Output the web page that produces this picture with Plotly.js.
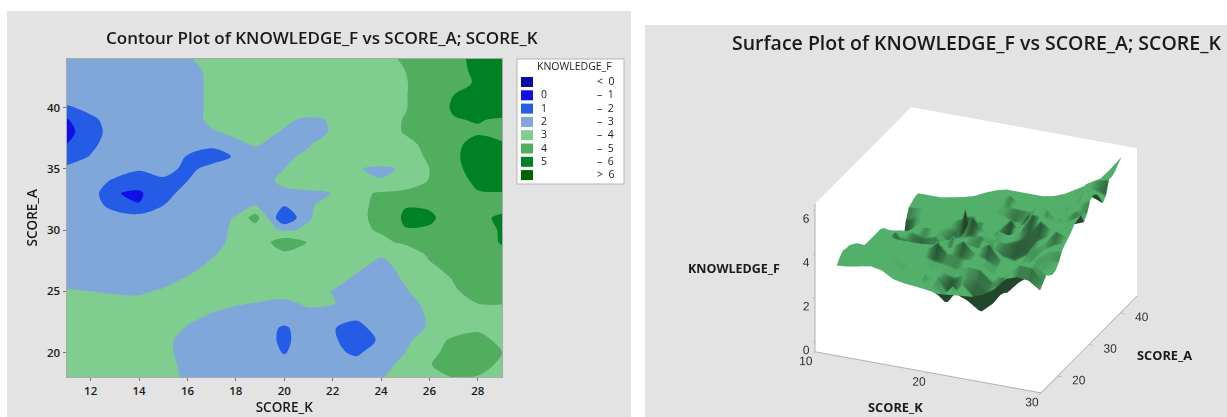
<!DOCTYPE html>
<html>
<head>
<meta charset="utf-8">
<script src="https://cdn.plot.ly/plotly-3.0.1.min.js"></script>
<style>html,body{margin:0;padding:0;background:#fff;overflow:hidden}#chart{width:1227px;height:417px}</style>
</head>
<body>
<div id="chart"></div>
<script>
const scoreK = [11,12,13,14,15,16,17,18,18.8,20,21,22,23,24,25,26,27,28,29];
const scoreA = [18,19,20,21,22,23,24,25,26,27,28,29,30,31,32,33,34,35,36,37,38,39,40,41,42,43,44];
const knowledgeF = [
[3.05,3.1,3.2,3.3,3.2,2.9,2.8,2.75,2.7,2.6,2.65,2.7,2.75,2.95,3.3,3.85,4.02,3.95,3.6],
[3.3,3.35,3.4,3.4,3.2,2.85,2.75,2.7,2.6,2.3,2.9,2.45,2.35,2.75,3.2,3.95,4.45,4.4,3.8],
[3.45,3.45,3.45,3.4,3.15,2.8,2.7,2.65,2.5,1.95,2.4,2.2,1.85,2.5,3.0,3.7,4.4,4.5,4.0],
[3.4,3.4,3.4,3.35,3.15,2.8,2.7,2.9,2.55,1.8,2.5,2.1,1.65,2.1,2.8,3.5,4.2,4.2,3.85],
[3.4,3.4,3.4,3.4,3.3,2.95,2.8,2.7,2.6,1.85,2.55,2.05,1.7,2.4,2.55,3.1,3.5,3.9,3.75],
[3.3,3.3,3.3,3.3,3.25,3.15,2.95,2.8,2.75,2.6,2.8,2.6,2.2,2.2,2.6,3.1,3.4,3.7,3.8],
[3.2,3.2,3.15,3.1,3.15,3.2,3.15,3.05,2.98,2.85,3.1,3.05,2.6,2.1,2.7,3.2,3.6,4.0,4.02],
[3.05,3.0,2.95,2.95,3.05,3.2,3.3,3.8,3.35,3.25,3.15,2.98,2.7,2.7,2.95,3.3,3.9,4.3,4.4],
[2.8,2.75,2.7,2.75,2.85,3.05,3.2,3.35,3.4,3.9,3.35,3.2,2.9,2.8,3.05,3.5,4.05,4.4,4.55],
[2.7,2.7,2.7,2.7,2.75,2.85,3.1,3.3,3.85,3.5,3.45,3.8,3.1,2.85,3.15,3.85,4.3,4.95,4.7],
[2.7,2.7,2.7,2.7,2.7,2.8,2.95,3.2,3.4,3.8,3.9,3.4,3.1,3.05,3.4,4.15,4.4,4.55,4.85],
[2.7,2.7,2.7,2.7,2.7,2.7,2.8,3.15,3.3,4.6,3.95,3.6,3.6,3.8,4.15,4.9,4.6,4.7,5.05],
[2.7,2.7,2.7,2.7,2.7,2.75,2.85,3.07,3.4,2.9,3.1,3.9,3.8,4.1,4.95,4.9,4.6,4.6,5.1],
[2.7,2.6,2.5,2.4,2.5,2.6,2.9,3.02,4.5,0.98,2.95,3.3,3.75,4.3,5.15,5.15,4.6,4.8,5.15],
[2.7,2.5,1.6,1.05,2.0,2.4,2.7,2.9,3.0,2.05,2.9,3.3,3.7,4.3,4.95,4.9,4.4,4.5,4.7],
[2.6,2.5,1.05,0.85,1.7,2.3,2.5,2.75,2.9,2.95,2.9,3.01,3.8,4.1,4.2,4.85,4.55,4.95,4.95],
[2.4,2.3,1.9,1.5,1.85,2.0,2.4,2.7,2.9,3.05,3.3,3.9,3.3,3.05,3.5,4.05,4.7,5.15,5.4],
[2.2,2.3,2.3,2.1,2.3,1.8,2.25,2.7,2.9,3.0,3.3,3.4,3.05,2.85,3.1,4.0,4.75,5.4,5.5],
[1.5,2.05,2.4,2.5,2.4,1.95,1.6,2.1,2.8,2.9,3.1,3.3,3.95,3.7,3.85,4.05,4.85,5.4,5.4],
[1.0,1.8,2.45,2.5,2.5,2.4,2.2,2.9,3.05,2.8,2.95,3.3,3.6,3.8,3.85,4.15,4.8,5.3,5.1],
[0.6,1.7,2.3,2.5,2.6,2.7,2.95,3.1,3.2,2.95,2.8,3.05,3.3,3.7,4.05,4.4,4.7,4.9,4.7],
[0.9,1.85,2.3,2.5,2.6,2.8,3.1,3.2,3.2,3.1,2.9,3.05,3.3,3.7,4.05,4.5,4.95,5.05,4.9],
[1.9,2.2,2.4,2.5,2.6,2.8,3.1,3.3,3.4,3.4,3.4,3.4,3.5,3.7,3.95,4.5,5.1,5.4,5.5],
[2.4,2.5,2.5,2.6,2.7,2.8,3.1,3.3,3.4,3.8,3.4,3.4,3.5,3.7,3.95,4.5,5.0,5.3,5.5],
[2.5,2.5,2.5,2.6,2.7,2.8,3.1,3.4,3.5,3.5,3.5,3.5,3.6,3.75,3.95,4.4,4.7,5.1,5.6],
[2.6,2.6,2.6,2.65,2.7,2.85,3.1,3.4,3.5,3.5,3.5,3.5,3.6,3.8,4.0,4.4,4.7,5.2,5.8],
[2.6,2.6,2.6,2.7,2.8,2.95,3.2,3.4,3.5,3.5,3.5,3.5,3.6,3.8,4.1,4.4,4.7,5.3,5.95]
];
const bandColors = ['#0a0aa8','#1010e6','#245ce6','#7fa7da','#80cd90','#50ae5e','#008224','#006400'];
const bandLow = ['','0','1','2','3','4','5',''];
const bandHigh = ['<\u00a0\u00a00','–\u00a0\u00a01','–\u00a0\u00a02','–\u00a0\u00a03','–\u00a0\u00a04','–\u00a0\u00a05','–\u00a0\u00a06','>\u00a0\u00a06'];
const contourTitle = 'Contour Plot of KNOWLEDGE_F vs SCORE_A; SCORE_K';
const surfaceTitle = 'Surface Plot of KNOWLEDGE_F vs SCORE_A; SCORE_K';

const W = 1227, H = 417;
const px = x => x / W, py = y => 1 - y / H;
const uiFont = '"Open Sans", sans-serif';
const steps = [];
bandColors.forEach((c, i) => { steps.push([i / 8, c]); steps.push([(i + 1) / 8, c]); });

const shapes = [
  {type:'rect',xref:'paper',yref:'paper',x0:px(7),x1:px(631),y0:py(11),y1:py(417),fillcolor:'#e3e3e3',line:{width:0},layer:'below'},
  {type:'rect',xref:'paper',yref:'paper',x0:px(645),x1:px(1227),y0:py(25),y1:py(417),fillcolor:'#e3e3e3',line:{width:0},layer:'below'},
  {type:'rect',xref:'paper',yref:'paper',x0:px(517),x1:px(624),y0:py(59),y1:py(184),fillcolor:'#ffffff',line:{width:1,color:'#b5b5b5'},layer:'below'}
];
const txt = (text, x, y, size, o) => Object.assign({text, xref:'paper', yref:'paper', x:px(x), y:py(y), showarrow:false,
  font:{family:uiFont, size, color:'#1a1a1a'}, xanchor:'center', yanchor:'middle'}, o || {});
const annotations = [
  txt(contourTitle, 322, 37, 17, {font:{family:uiFont,size:17,color:'#1a1a1a',weight:600}}),
  txt(surfaceTitle, 976, 42, 19.5, {font:{family:uiFont,size:19.5,color:'#1a1a1a',weight:600}}),
  txt('KNOWLEDGE_F', 734, 268, 12.5, {font:{family:uiFont,size:12.5,color:'#1a1a1a',weight:700}}),
  txt('SCORE_A', 1164, 355, 12.8, {font:{family:uiFont,size:12.8,color:'#1a1a1a',weight:700}}),
  txt('SCORE_K', 895, 407, 12.8, {font:{family:uiFont,size:12.8,color:'#1a1a1a',weight:700}}),
  txt('KNOWLEDGE_F', 614, 66, 10.5, {xanchor:'right'})
];
bandColors.forEach((c, i) => {
  const cy = 82 + i * 13.3;
  shapes.push({type:'rect',xref:'paper',yref:'paper',x0:px(521),x1:px(533),y0:py(cy-5),y1:py(cy+5),fillcolor:c,line:{width:0}});
  if (bandLow[i]) annotations.push(txt(bandLow[i], 539, cy-1, 10.5, {xanchor:'left'}));
  annotations.push(txt(bandHigh[i], 616, cy-1, 10.5, {xanchor:'right'}));
});

const traces = [
  {type:'contour', x:scoreK, y:scoreA, z:knowledgeF, zmin:-1, zmax:7, colorscale:steps, showscale:false,
   contours:{coloring:'fill', start:0, end:6, size:1, showlines:false}, line:{width:0, smoothing:0.9}, hoverinfo:'skip'},
  {type:'surface', x:scoreK, y:scoreA, z:knowledgeF, scene:'scene', showscale:false, hoverinfo:'skip',
   colorscale:[[0,'#52b06a'],[1,'#52b06a']],
   lighting:{ambient:0.4, diffuse:1.0, specular:1.3, roughness:0.3, fresnel:0.15},
   lightposition:{x:10, y:10000, z:0}}
];
const sceneAxis = (range, tickvals) => ({range, tickvals, tickangle:0, title:{text:''}, showgrid:false, zeroline:false, showspikes:false,
  showbackground:true, backgroundcolor:'#ffffff', showline:true, linecolor:'#b0b0b0', linewidth:2, ticks:'outside', ticklen:5,
  tickcolor:'#999999', tickfont:{family:'"Liberation Sans", sans-serif', size:12, color:'#333333'}});
const cartAxis = {showgrid:false, zeroline:false, showline:true, mirror:true, linecolor:'#a9a9a9', ticks:'outside', ticklen:3,
  tickcolor:'#777777', tickfont:{family:uiFont, size:11.5, color:'#1a1a1a', weight:600}};
const layout = {
  width:W, height:H, margin:{l:0,r:0,t:0,b:0}, paper_bgcolor:'#ffffff', plot_bgcolor:'#ffffff', showlegend:false,
  xaxis:Object.assign({domain:[px(66.5),px(502)], range:[11,29], tickvals:[12,14,16,18,20,22,24,26,28], anchor:'y',
    title:{text:'SCORE_K', standoff:4, font:{family:uiFont,size:13.5,color:'#1a1a1a',weight:600}}}, cartAxis),
  yaxis:Object.assign({domain:[py(377),py(58.5)], range:[18,44], tickvals:[20,25,30,35,40], anchor:'x',
    title:{text:'SCORE_A', standoff:6, font:{family:uiFont,size:13.5,color:'#1a1a1a',weight:600}}}, cartAxis),
  scene:{domain:{x:[px(725),1], y:[0,py(83)]}, aspectmode:'manual', aspectratio:{x:1.47,y:1.47,z:0.98},
    xaxis:sceneAxis([10,30],[10,20,30]), yaxis:sceneAxis([14.7,45.3],[20,30,40]), zaxis:sceneAxis([-0.5,6.25],[0,2,4,6]),
    camera:{projection:{type:'orthographic'}, eye:{x:0.71,y:-1.67,z:0.86}, center:{x:0,y:0,z:0}, up:{x:0,y:0,z:1}}},
  shapes, annotations
};
Plotly.newPlot('chart', traces, layout, {displayModeBar:false, responsive:false});
</script>
</body>
</html>
